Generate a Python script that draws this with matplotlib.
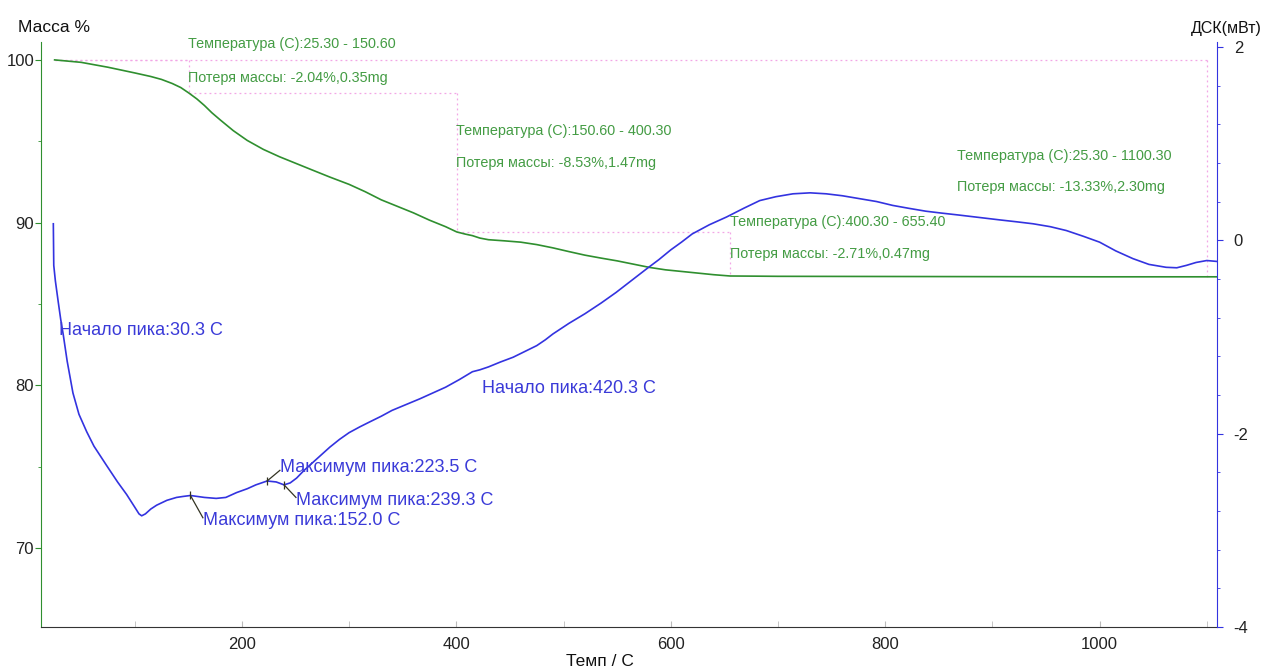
import matplotlib
matplotlib.use("Agg")
import matplotlib.pyplot as plt
from matplotlib.ticker import MultipleLocator, FixedLocator

plt.rcParams['font.family'] = ['Liberation Sans', 'DejaVu Sans']
plt.rcParams['axes.unicode_minus'] = False

# ---- TGA (mass %) ----
tga_t = [25.3, 50, 75, 100, 115, 125, 135, 143, 150.6, 158, 165, 172, 180, 192, 205, 220, 235, 250,
         265, 282, 300, 315, 330, 345, 360, 375, 390, 400.3, 408, 415, 422, 430, 445, 460, 475, 490,
         505, 520, 535, 550, 565, 580, 595, 610, 625, 640, 655.4, 680, 700, 800, 900, 1000, 1100, 1110]
tga_m = [100.0, 99.85, 99.55, 99.2, 98.98, 98.8, 98.55, 98.3, 97.96, 97.6, 97.2, 96.75, 96.3,
         95.65, 95.05, 94.5, 94.05, 93.65, 93.25, 92.8, 92.35, 91.9, 91.4, 91.0, 90.6, 90.15,
         89.75, 89.43, 89.3, 89.2, 89.05, 88.95, 88.88, 88.8, 88.65, 88.45, 88.22, 88.0, 87.82,
         87.65, 87.45, 87.25, 87.1, 87.0, 86.9, 86.8, 86.72, 86.71, 86.7, 86.69, 86.68, 86.67,
         86.67, 86.67]

# ---- DSC (mW) ----
dsc_t = [24.1, 24.5, 26, 28.7, 31, 33.4, 37, 42.4, 48, 55.2, 62, 73.8, 84, 92.5, 100, 104, 106.5,
         110, 115, 120.5, 130, 139, 145, 152, 165, 176, 185, 195, 205, 213, 223.5, 232, 239.3,
         245, 251, 258, 266, 274, 282, 291, 300, 310, 319, 330, 340, 353, 366, 378, 390, 403,
         415, 422, 430, 441, 453, 464, 475, 483, 490, 505, 520, 535, 549, 563, 577, 589, 600,
         610, 620, 636, 652, 668, 683, 698, 714, 730, 745, 760, 776, 792, 807, 822, 838, 853,
         869, 888, 907, 923, 938, 954, 969, 985, 1000, 1015, 1031, 1046, 1062, 1072, 1081, 1090,
         1100, 1110]
dsc_v = [0.17, -0.26, -0.42, -0.64, -0.82, -0.98, -1.25, -1.58, -1.80, -1.98, -2.13, -2.33, -2.50,
         -2.63, -2.76, -2.83, -2.85, -2.83, -2.78, -2.74, -2.69, -2.66, -2.65, -2.64, -2.66,
         -2.67, -2.66, -2.61, -2.57, -2.53, -2.49, -2.50, -2.53, -2.51, -2.46, -2.38, -2.30,
         -2.22, -2.14, -2.06, -1.99, -1.93, -1.88, -1.82, -1.76, -1.70, -1.64, -1.58, -1.52,
         -1.44, -1.36, -1.34, -1.31, -1.26, -1.21, -1.15, -1.09, -1.03, -0.97, -0.86, -0.76,
         -0.65, -0.54, -0.42, -0.30, -0.20, -0.10, -0.02, 0.065, 0.16, 0.24, 0.33, 0.41, 0.45,
         0.48, 0.49, 0.48, 0.46, 0.43, 0.40, 0.36, 0.33, 0.30, 0.28, 0.26, 0.235, 0.21, 0.19,
         0.17, 0.14, 0.10, 0.04, -0.02, -0.11, -0.19, -0.25, -0.28, -0.285, -0.26, -0.23, -0.21,
         -0.22]

# ---- mass-loss steps ----
step_t1 = [25.30, 150.60, 400.30, 25.30]
step_t2 = [150.60, 400.30, 655.40, 1100.30]
step_m1 = [100.0, 97.96, 89.43, 100.0]
step_m2 = [97.96, 89.43, 86.72, 86.67]
step_loss = ["-2.04%", "-8.53%", "-2.71%", "-13.33%"]
step_mg = ["0.35mg", "1.47mg", "0.47mg", "2.30mg"]
step_text_xy = [(149.7, 100.98, 98.89), (399.5, 95.63, 93.66), (655.0, 90.03, 88.06), (866.7, 94.09, 92.18)]

# ---- DSC peaks ----
peak_t = [152.0, 223.5, 239.3]
peak_v = [-2.64, -2.49, -2.53]
peak_text = [(163.6, -2.90), (235.4, -2.35), (250.4, -2.69)]
onset_t = [30.3, 420.3]
onset_text = [(29.4, -0.93), (423.8, -1.53)]

GREEN = '#2f8f2f'
GTEXT = '#449c44'
BLUE = '#3333e0'
BTEXT = '#3a3ad8'
PINK = '#f2a6e6'

fig = plt.figure(figsize=(12.63, 6.71), dpi=100)
ax = fig.add_axes([41/1263, 44/671, 1176/1263, 585/671])
ax.set_xlim(12.6, 1109.5)
ax.set_ylim(65.15, 101.1)

ax.spines['top'].set_visible(False)
ax.spines['right'].set_visible(False)
ax.spines['left'].set_color(GREEN)
ax.spines['bottom'].set_color('#333333')

ax.xaxis.set_major_locator(FixedLocator([200, 400, 600, 800, 1000]))
ax.xaxis.set_minor_locator(FixedLocator([100, 300, 500, 700, 900, 1100]))
ax.tick_params(axis='x', which='both', direction='in', colors='#bbbbbb', labelcolor='#222222',
               labelsize=12, length=4, pad=7)
ax.yaxis.set_major_locator(FixedLocator([70, 80, 90, 100]))
ax.yaxis.set_minor_locator(FixedLocator([75, 85, 95]))
ax.tick_params(axis='y', which='major', direction='out', length=4, colors=GREEN,
               labelcolor='#222222', labelsize=12, pad=1)
ax.tick_params(axis='y', which='minor', direction='out', length=2, colors=GREEN)

for t1, t2, m1, m2 in zip(step_t1, step_t2, step_m1, step_m2):
    ax.plot([t1, t2], [m1, m1], color=PINK, lw=0.9, ls=(0, (1.5, 2.5)), zorder=1)
    ax.plot([t2, t2], [m1, m2], color=PINK, lw=0.9, ls=(0, (1.5, 2.5)), zorder=1)

for t1, t2, loss, mg, (tx, y1, y2) in zip(step_t1, step_t2, step_loss, step_mg, step_text_xy):
    ax.text(tx, y1, "Температура (С):%.2f - %.2f" % (t1, t2), color=GTEXT, fontsize=10.4,
            ha='left', va='center')
    ax.text(tx, y2, "Потеря массы: %s,%s" % (loss, mg), color=GTEXT, fontsize=10.4,
            ha='left', va='center')

ax.plot(tga_t, tga_m, color=GREEN, lw=1.2, zorder=3)

ax2 = ax.twinx()
ax2.set_ylim(-4, 2.05)
for s in ['top', 'left', 'bottom']:
    ax2.spines[s].set_visible(False)
ax2.spines['right'].set_color(BLUE)
ax2.yaxis.set_major_locator(FixedLocator([-4, -2, 0, 2]))
ax2.yaxis.set_minor_locator(MultipleLocator(0.4))
ax2.tick_params(axis='y', which='major', direction='out', length=4, colors=BLUE,
                labelcolor='#222222', labelsize=12, pad=8)
ax2.tick_params(axis='y', which='minor', direction='out', length=2, colors=BLUE)

ax2.plot(dsc_t, dsc_v, color=BLUE, lw=1.2, zorder=3)

for (pt, pv), (tx, ty) in zip(zip(peak_t, peak_v), peak_text):
    ax2.plot([pt, tx], [pv, ty + (0.03 if ty < pv else -0.03)], color='#333322', lw=0.9, zorder=4)
    ax2.plot([pt], [pv], marker='|', color='#333322', ms=6, mew=0.9, zorder=4)
    ax2.text(tx, ty, "Максимум пика:%.1f С" % pt, color=BTEXT, fontsize=13, ha='left', va='center')

for ot, (tx, ty) in zip(onset_t, onset_text):
    ax2.text(tx, ty, "Начало пика:%.1f С" % ot, color=BTEXT, fontsize=13, ha='left', va='center')

fig.text(18/1263, 1 - 28/671, "Масса %", fontsize=12.5, ha='left', va='center', color='#111111')
fig.text(1262/1263, 1 - 28/671, "ДСК(мВт)", fontsize=11.5, ha='right', va='center', color='#111111')
fig.text(600/1263, 1 - 662/671, "Темп / С", fontsize=12.5, ha='center', va='center', color='#111111')

fig.savefig("out.png", dpi=100)
